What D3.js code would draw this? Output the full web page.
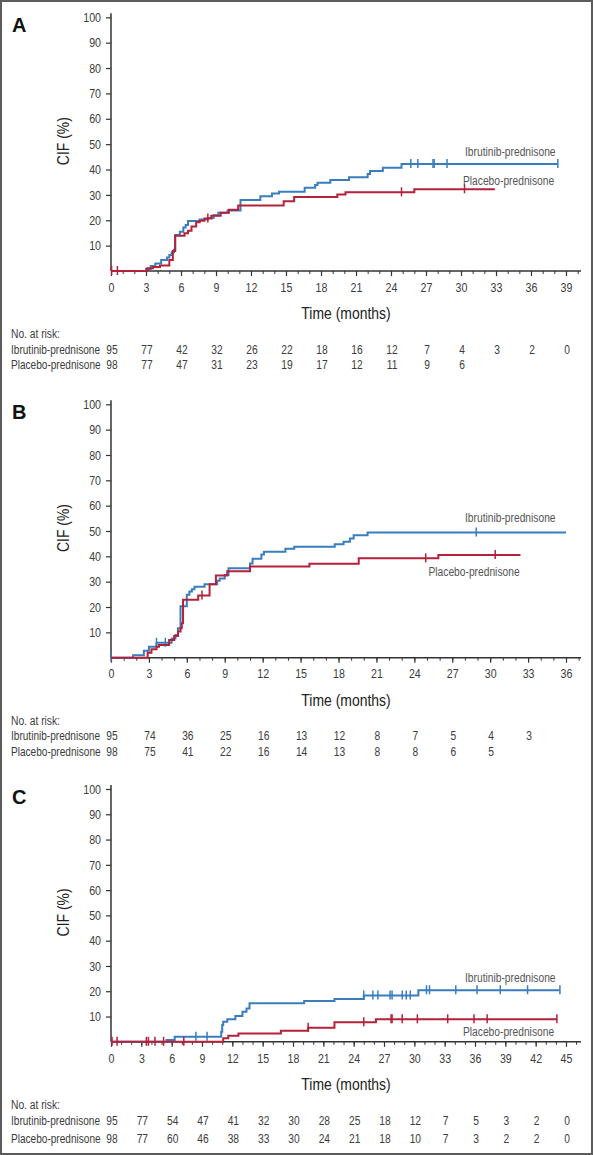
<!DOCTYPE html>
<html>
<head>
<meta charset="utf-8">
<script src="https://cdn.jsdelivr.net/npm/d3@7/dist/d3.min.js"></script>
<style>
  html, body { margin: 0; padding: 0; background: #fff; }
  svg { display: block; }
  .nar { font-family: 'Liberation Sans Narrow', 'Arial Narrow', 'Liberation Sans', Arial, sans-serif; }
</style>
</head>
<body>
<svg id="chart" width="593" height="1155"></svg>
<script>
// ---------- Data ----------
const yTickValues = [10, 20, 30, 40, 50, 60, 70, 80, 90, 100];
const armLabels = ["Ibrutinib-prednisone", "Placebo-prednisone"];
const riskTitle = "No. at risk:";
const xTitle = "Time (months)";
const yTitle = "CIF (%)";

// Panel A
const aXMax = 39;
const aIbrTimes  = [3.0, 3.4, 3.8, 4.3, 4.8, 5.0, 5.2, 5.4, 5.5, 5.9, 6.2, 6.4, 6.6, 7.6, 8.3, 8.8, 9.2, 10.0, 11.1, 12.8, 13.8, 14.4, 16.6, 17.5, 17.7, 18.8, 20.4, 22.0, 22.2, 23.3, 24.9];
const aIbrValues = [0.8, 2.0, 3.0, 4.3, 5.3, 6.3, 7.4, 8.4, 14.2, 15.5, 17.1, 18.1, 19.7, 20.3, 20.9, 22.0, 23.0, 23.8, 28.0, 29.5, 30.5, 31.2, 32.8, 33.9, 34.8, 35.9, 37.0, 38.2, 39.4, 40.7, 42.2];
const aIbrEnd = 38.3;
const aIbrCensor = [25.7, 26.3, 27.6, 27.7, 28.8, 38.3];
const aPlaTimes  = [3.1, 3.6, 4.2, 5.0, 5.3, 5.5, 6.3, 6.6, 6.9, 7.3, 7.6, 8.0, 8.6, 9.4, 10.1, 10.9, 14.8, 15.7, 19.4, 20.1, 26.0];
const aPlaValues = [1.1, 1.6, 2.2, 4.3, 7.9, 13.9, 14.9, 15.9, 17.5, 19.2, 19.8, 20.7, 21.8, 23.0, 24.1, 25.8, 27.5, 29.2, 30.2, 31.0, 32.2];
const aPlaEnd = 32.9;
const aPlaCensor = [0.05, 0.55, 8.3, 24.9, 30.3];
const aRiskIbr = [95, 77, 42, 32, 26, 22, 18, 16, 12, 7, 4, 3, 2, 0];
const aRiskPla = [98, 77, 47, 31, 23, 19, 17, 12, 11, 9, 6];

// Panel B
const bXMax = 36;
const bIbrTimes  = [1.75, 2.6, 3.0, 3.6, 4.8, 5.1, 5.3, 5.5, 6.0, 6.2, 6.4, 6.6, 7.4, 8.4, 8.6, 9.0, 9.3, 11.0, 11.2, 11.9, 12.1, 13.8, 14.5, 17.7, 18.4, 18.9, 19.2, 20.3];
const bIbrValues = [1.0, 2.7, 4.3, 5.9, 7.6, 9.0, 11.6, 20.3, 24.8, 26.1, 27.0, 28.0, 29.0, 30.4, 31.3, 32.6, 35.3, 37.2, 39.0, 40.7, 41.8, 43.0, 43.8, 44.8, 45.8, 47.0, 48.3, 49.4];
const bIbrEnd = 36.0;
const bIbrCensor = [0, 3.6, 4.3, 28.9];
const bPlaTimes  = [2.9, 3.2, 3.6, 3.8, 4.6, 5.0, 5.3, 5.5, 5.6, 5.7, 6.9, 7.8, 8.3, 9.2, 11.0, 15.7, 19.6, 25.9];
const bPlaValues = [2.0, 3.3, 4.3, 5.0, 7.0, 8.6, 10.3, 11.6, 13.6, 22.9, 24.5, 29.0, 32.4, 34.1, 36.0, 37.1, 39.2, 40.5];
const bPlaEnd = 32.4;
const bPlaCensor = [7.2, 24.9, 30.4];
const bRiskIbr = [95, 74, 36, 25, 16, 13, 12, 8, 7, 5, 4, 3];
const bRiskPla = [98, 75, 41, 22, 16, 14, 13, 8, 8, 6, 5];

// Panel C
const cXMax = 45;
const cIbrTimes  = [5.5, 6.3, 10.9, 11.0, 11.1, 11.5, 12.3, 13.0, 13.4, 13.7, 19.1, 22.1, 25.0, 30.4];
const cIbrValues = [0.7, 2.0, 4.0, 6.6, 7.9, 8.9, 10.2, 11.9, 13.2, 15.2, 16.1, 16.9, 18.3, 20.4];
const cIbrEnd = 44.4;
const cIbrCensor = [8.4, 9.5, 25.0, 25.9, 26.4, 27.6, 27.8, 28.8, 29.2, 29.6, 31.2, 31.5, 34.1, 36.2, 38.5, 41.2, 44.4];
const cPlaTimes  = [11.1, 11.6, 12.6, 16.8, 19.5, 22.1, 26.2];
const cPlaValues = [1.4, 2.4, 3.3, 4.4, 5.6, 7.7, 8.9];
const cPlaEnd = 44.1;
const cPlaCensor = [0.1, 0.6, 3.5, 3.7, 4.35, 5.2, 7.2, 19.5, 25.0, 27.7, 27.8, 28.8, 30.3, 33.3, 35.9, 37.2, 44.1];
const cRiskIbr = [95, 77, 54, 47, 41, 32, 30, 28, 25, 18, 12, 7, 5, 3, 2, 0];
const cRiskPla = [98, 77, 60, 46, 38, 33, 30, 24, 21, 18, 10, 7, 3, 2, 2, 0];

// ---------- Layout / style ----------
const BLUE = "#3a7dbf", RED = "#b3213a", AX = "#333", TXT = "#3c3c3c";
const X0 = 111, X1 = 566, XAXIS_END = 581;
const CONDENSE = 0.82;

const panels = [
  { letter: "A", top: 17.3, bottom: 271, xMax: aXMax,
    ibr: { t: aIbrTimes, v: aIbrValues, end: aIbrEnd, c: aIbrCensor },
    pla: { t: aPlaTimes, v: aPlaValues, end: aPlaEnd, c: aPlaCensor },
    risk: [aRiskIbr, aRiskPla],
    lab: [{ x: 465, v: 45.3 }, { x: 463, v: 33.9 }],
    off: { tick: 21, title: 48, risk: 67, r1: 82.5, r2: 97.5 } },
  { letter: "B", top: 404.3, bottom: 657.7, xMax: bXMax,
    ibr: { t: bIbrTimes, v: bIbrValues, end: bIbrEnd, c: bIbrCensor },
    pla: { t: bPlaTimes, v: bPlaValues, end: bPlaEnd, c: bPlaCensor },
    risk: [bRiskIbr, bRiskPla],
    lab: [{ x: 465, v: 53.7 }, { x: 428.5, v: 32.2 }],
    off: { tick: 21, title: 48.3, risk: 66.8, r1: 82.3, r2: 97.8 } },
  { letter: "C", top: 789, bottom: 1041.8, xMax: cXMax,
    ibr: { t: cIbrTimes, v: cIbrValues, end: cIbrEnd, c: cIbrCensor },
    pla: { t: cPlaTimes, v: cPlaValues, end: cPlaEnd, c: cPlaCensor },
    risk: [cRiskIbr, cRiskPla],
    lab: [{ x: 465, v: 23.7 }, { x: 463, v: 2.3 }],
    off: { tick: 21.7, title: 48.2, risk: 67.2, r1: 83.2, r2: 100.7 } }
];

const svg = d3.select("#chart");
svg.append("rect").attr("x", 1).attr("y", 1).attr("width", 591).attr("height", 1153)
  .attr("fill", "#fff").attr("stroke", "#5c5c5c").attr("stroke-width", 2);

function stepPoints(arm) {
  const pts = [[0, 0]];
  arm.t.forEach((t, i) => pts.push([t, arm.v[i]]));
  pts.push([arm.end, arm.v[arm.v.length - 1]]);
  return pts;
}
function valueAt(arm, t) {
  let v = 0;
  arm.t.forEach((tt, i) => { if (tt <= t) v = arm.v[i]; });
  return v;
}

panels.forEach(p => {
  const g = svg.append("g");
  const x = d3.scaleLinear().domain([0, p.xMax]).range([X0, X1]);
  const y = d3.scaleLinear().domain([0, 100]).range([p.bottom, p.top]);

  // panel letter
  g.append("text").attr("x", 12).attr("y", p.top + 14.5)
    .attr("font-family", "'Liberation Sans', Arial, sans-serif")
    .attr("font-weight", "bold").attr("font-size", 20).attr("fill", "#111").text(p.letter);

  // y axis
  const yAx = g.append("g").attr("transform", `translate(${X0},0)`)
    .call(d3.axisLeft(y).tickValues(yTickValues).tickSize(5).tickPadding(5));
  yAx.select(".domain").remove();
  yAx.selectAll("line").attr("stroke", AX).attr("stroke-width", 1.2);
  yAx.selectAll("text").attr("class", "nar").attr("font-size", 13).attr("fill", TXT)
    .attr("font-family", null);
  g.append("line").attr("x1", X0).attr("x2", X0).attr("y1", p.top - 4).attr("y2", p.bottom)
    .attr("stroke", AX).attr("stroke-width", 1.5);

  // x axis: minor ticks every month, major every 3 months
  const axisEndT = x.invert(XAXIS_END);
  const minor = d3.range(0, Math.floor(axisEndT) + 1, 1);
  const major = d3.range(0, p.xMax + 0.001, 3);
  const xMin = g.append("g").attr("transform", `translate(0,${p.bottom})`)
    .call(d3.axisBottom(x).tickValues(minor).tickSize(3).tickFormat(""));
  xMin.select(".domain").remove();
  xMin.selectAll("line").attr("stroke", AX).attr("stroke-width", 1);
  const xMaj = g.append("g").attr("transform", `translate(0,${p.bottom})`)
    .call(d3.axisBottom(x).tickValues(major).tickSize(5).tickPadding(6));
  xMaj.select(".domain").remove();
  xMaj.selectAll("line").attr("stroke", AX).attr("stroke-width", 1.2);
  xMaj.selectAll("text").attr("class", "nar").attr("font-size", 13).attr("fill", TXT)
    .attr("font-family", null).attr("dy", null).attr("y", p.off.tick - 0.5);
  g.append("line").attr("x1", X0).attr("x2", XAXIS_END).attr("y1", p.bottom).attr("y2", p.bottom)
    .attr("stroke", AX).attr("stroke-width", 1.5);

  // axis titles
  g.append("text").attr("class", "nar").attr("font-size", 17).attr("fill", "#222")
    .attr("text-anchor", "middle")
    .attr("transform", `translate(69,${(p.top + p.bottom) / 2 - 3}) rotate(-90)`)
    .text(yTitle);
  g.append("text").attr("class", "nar").attr("font-size", 17).attr("fill", "#222")
    .attr("text-anchor", "middle").attr("x", (X0 + XAXIS_END) / 2).attr("y", p.bottom + p.off.title)
    .text(xTitle);

  // curves
  const line = d3.line().x(d => x(d[0])).y(d => y(d[1])).curve(d3.curveStepAfter);
  [[p.ibr, BLUE], [p.pla, RED]].forEach(([arm, col]) => {
    g.append("path").attr("d", line(stepPoints(arm))).attr("fill", "none")
      .attr("stroke", col).attr("stroke-width", 2);
    g.selectAll(null).data(arm.c).enter().append("line")
      .attr("x1", d => x(d)).attr("x2", d => x(d))
      .attr("y1", d => y(valueAt(arm, d)) - 5).attr("y2", d => y(valueAt(arm, d)) + 4)
      .attr("stroke", col).attr("stroke-width", 1.5);
  });

  // curve labels
  p.lab.forEach((l, i) => {
    g.append("text").attr("class", "nar").attr("font-size", 12.5).attr("fill", "#555")
      .attr("x", l.x).attr("y", y(l.v)).text(armLabels[i]);
  });

  // number at risk
  g.append("text").attr("class", "nar").attr("font-size", 12.5).attr("fill", TXT)
    .attr("x", 11).attr("y", p.bottom + p.off.risk).text(riskTitle);
  [p.off.r1, p.off.r2].forEach((off, r) => {
    g.append("text").attr("class", "nar").attr("font-size", 12.3).attr("fill", TXT)
      .attr("x", 11).attr("y", p.bottom + off).text(armLabels[r]);
    g.selectAll(null).data(p.risk[r]).enter().append("text")
      .attr("class", "nar").attr("font-size", 12.5).attr("fill", TXT)
      .attr("text-anchor", "middle")
      .attr("x", (d, i) => x(i * 3) + 1).attr("y", p.bottom + off).text(d => d);
  });
});

// Condense the regular-width fallback font so it looks like a narrow face
// (horizontal scale applied in each text's own coordinate frame).
svg.selectAll("text.nar").each(function () {
  const s = d3.select(this);
  const xx = +s.attr("x") || 0, yy = +s.attr("y") || 0;
  const tr = s.attr("transform") || "";
  s.attr("x", 0).attr("y", 0)
    .attr("transform", `${tr} translate(${xx},${yy}) scale(${CONDENSE},1)`);
});
</script>
</body>
</html>
